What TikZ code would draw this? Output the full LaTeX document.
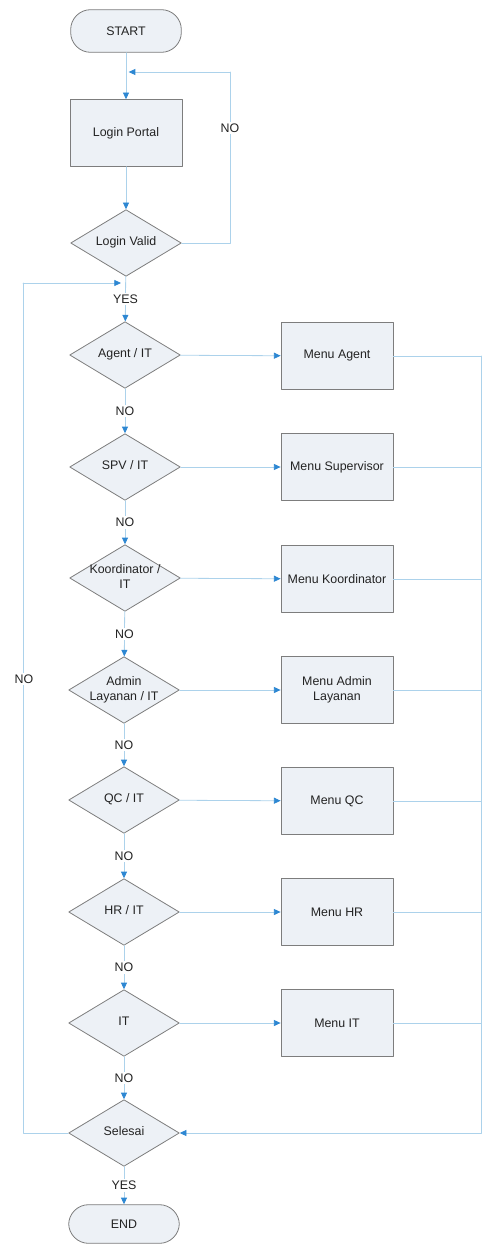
\documentclass[tikz,border=0pt]{standalone}
\usepackage{fontspec}
\setmainfont{Liberation Sans}
\usepackage{tikz}
\usetikzlibrary{arrows.meta,shapes.geometric}
\definecolor{boxfill}{RGB}{237,241,246}
\definecolor{boxline}{RGB}{125,125,125}
\definecolor{flowline}{RGB}{172,210,235}
\definecolor{tipblue}{RGB}{45,135,210}
\definecolor{txt}{RGB}{35,35,35}
\newcommand{\dtext}[1]{\makebox[0pt]{\begin{tabular}{@{}c@{}}#1\end{tabular}}}

\begin{document}
\begin{tikzpicture}[line cap=round,line join=round,x=0.75pt,y=-0.75pt,
  font=\fontsize{9.3}{11}\selectfont,text=txt,
  term/.style={rectangle,draw=boxline,fill=boxfill,rounded corners=15pt,minimum width=83pt,minimum height=32pt,line width=0.6pt},
  proc/.style={rectangle,draw=boxline,fill=boxfill,minimum width=84pt,minimum height=50pt,align=center,line width=0.6pt},
  decide/.style={diamond,draw=boxline,fill=boxfill,inner sep=0pt,minimum width=83pt,minimum height=50pt,line width=0.6pt},
  flow/.style={draw=flowline,line width=0.6pt},
  flowto/.style={flow,-{Triangle[length=5pt,width=4.5pt,color=tipblue]}},
  lbl/.style={fill=white,inner sep=1.5pt}]
\useasboundingbox (0,0) rectangle (483,1244);

% main column
\node[term] (start) at (126,31) {START};
\node[proc] (login) at (126,133) {Login Portal};
\node[decide] (valid) at (126,243) {\dtext{Login Valid}};
\node[decide] (agent) at (125,355) {\dtext{Agent / IT}};
\node[decide] (spv) at (125,467) {\dtext{SPV / IT}};
\node[decide] (koord) at (125,578) {\dtext{Koordinator /\\IT}};
\node[decide] (admin) at (124,690) {\dtext{Admin\\Layanan / IT}};
\node[decide] (qc) at (124,800) {\dtext{QC / IT}};
\node[decide] (hr) at (124,912) {\dtext{HR / IT}};
\node[decide] (it) at (124,1023) {\dtext{IT}};
\node[decide] (selesai) at (124,1133) {\dtext{Selesai}};
\node[term,minimum height=29pt] (end) at (124,1224) {END};

% menus
\node[proc] (magent) at (337,356) {Menu Agent};
\node[proc] (mspv) at (337,467) {Menu Supervisor};
\node[proc] (mkoord) at (337,579) {Menu Koordinator};
\node[proc] (madmin) at (337,690) {Menu Admin\\Layanan};
\node[proc] (mqc) at (337,801) {Menu QC};
\node[proc] (mhr) at (337,912) {Menu HR};
\node[proc] (mit) at (337,1023) {Menu IT};

% corner points of the loops
\coordinate (m1) at (126,72);
\coordinate (loopR) at (230,72);
\coordinate (m2) at (125,283);
\coordinate (loopL) at (23,283);
\coordinate (ragent) at (481,356);
\coordinate (rspv) at (481,467);
\coordinate (rkoord) at (481,579);
\coordinate (radmin) at (481,690);
\coordinate (rqc) at (481,801);
\coordinate (rhr) at (481,912);
\coordinate (rit) at (481,1023);
\coordinate (rend) at (481,1133);

\draw[flowto] (start) -- (login);
\draw[flowto] (login) -- (valid);
\draw[flow] (valid.east) -| (loopR);
\draw[flowto,shorten >=2pt] (loopR) -- (m1);
\node[lbl] (nologin) at (230,128) {NO};
\draw[flowto] (valid) -- node[lbl] {YES} (agent);
\draw[flowto] (agent) -- node[lbl] {NO} (spv);
\draw[flowto] (spv) -- node[lbl] {NO} (koord);
\draw[flowto] (koord) -- node[lbl] {NO} (admin);
\draw[flowto] (admin) -- node[lbl] {NO} (qc);
\draw[flowto] (qc) -- node[lbl] {NO} (hr);
\draw[flowto] (hr) -- node[lbl] {NO} (it);
\draw[flowto] (it) -- node[lbl] {NO} (selesai);
\draw[flowto] (selesai) -- node[lbl] {YES} (end);

% role branches
\draw[flowto] (agent) -- (magent);
\draw[flowto] (spv) -- (mspv);
\draw[flowto] (koord) -- (mkoord);
\draw[flowto] (admin) -- (madmin);
\draw[flowto] (qc) -- (mqc);
\draw[flowto] (hr) -- (mhr);
\draw[flowto] (it) -- (mit);
\draw[flow] (magent) -- (ragent);
\draw[flow] (mspv) -- (rspv);
\draw[flow] (mkoord) -- (rkoord);
\draw[flow] (madmin) -- (radmin);
\draw[flow] (mqc) -- (rqc);
\draw[flow] (mhr) -- (rhr);
\draw[flow] (mit) -- (rit);
\draw[flowto] (ragent) -- (rend) -- (selesai.east);

% back to the role check
\draw[flow] (selesai.west) -| (loopL);
\draw[flowto,shorten >=3pt] (loopL) -- (m2);
\node[lbl] (noback) at (24,679) {NO};
\end{tikzpicture}
\end{document}
